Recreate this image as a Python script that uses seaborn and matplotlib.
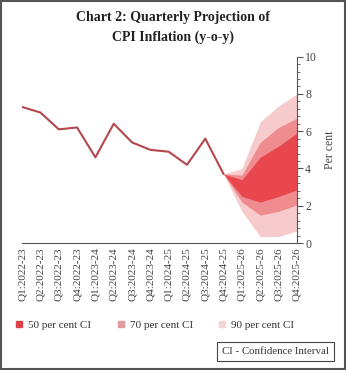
import numpy as np
import pandas as pd
import seaborn as sns
import matplotlib
matplotlib.use("Agg")
import matplotlib.pyplot as plt
from matplotlib.ticker import MultipleLocator
from matplotlib.patches import Rectangle
from matplotlib.lines import Line2D

quarters = ["Q1:2022-23", "Q2:2022-23", "Q3:2022-23", "Q4:2022-23",
            "Q1:2023-24", "Q2:2023-24", "Q3:2023-24", "Q4:2023-24",
            "Q1:2024-25", "Q2:2024-25", "Q3:2024-25", "Q4:2024-25",
            "Q1:2025-26", "Q2:2025-26", "Q3:2025-26", "Q4:2025-26"]
actual = [7.3, 7.0, 6.1, 6.2, 4.6, 6.4, 5.4, 5.0, 4.9, 4.2, 5.6, 3.7]

fan_quarters = ["Q4:2024-25", "Q1:2025-26", "Q2:2025-26", "Q3:2025-26", "Q4:2025-26"]
ci50_low = [3.7, 2.5, 2.2, 2.5, 2.85]
ci50_high = [3.7, 3.4, 4.6, 5.2, 5.9]
ci70_low = [3.7, 2.2, 1.5, 1.7, 2.05]
ci70_high = [3.7, 3.65, 5.4, 6.2, 6.7]
ci90_low = [3.7, 1.7, 0.35, 0.35, 0.65]
ci90_high = [3.7, 4.0, 6.5, 7.35, 8.0]

c50 = "#E8474E"
c70 = "#EF8C90"
c90 = "#F7CBCC"
cline = "#B4474C"

sns.set_style("white")
plt.rcParams["font.family"] = ["Liberation Serif", "DejaVu Serif"]

fig = plt.figure(figsize=(3.46, 3.70), dpi=100)
ax = fig.add_axes([0.064, 0.343, 0.794, 0.504])

pos = {q: i for i, q in enumerate(quarters)}
fx = [pos[q] for q in fan_quarters]

ax.fill_between(fx, ci90_low, ci90_high, color=c90, lw=0, zorder=1)
ax.fill_between(fx, ci70_low, ci70_high, color=c70, lw=0, zorder=2)
ax.fill_between(fx, ci50_low, ci50_high, color=c50, lw=0, zorder=3)

df = pd.DataFrame({"x": [pos[q] for q in quarters[:len(actual)]], "y": actual})
sns.lineplot(data=df, x="x", y="y", ax=ax, color=cline, lw=1.5, zorder=4)

ax.set_xlim(0, len(quarters) - 1)
ax.set_ylim(0, 10)
ax.set_xticks(range(len(quarters)))
ax.set_xticklabels(quarters, rotation=90, fontsize=8, color="#444444")
ax.yaxis.tick_right()
ax.yaxis.set_label_position("right")
ax.set_yticks([0, 2, 4, 6, 8, 10])
ax.yaxis.set_minor_locator(MultipleLocator(0.4))
ax.tick_params(axis="y", which="major", direction="out", length=4, width=0.8,
               color="#555555", labelsize=8.5, labelcolor="#444444", pad=2)
ax.tick_params(axis="y", which="minor", direction="out", length=2, width=0.6, color="#555555")
ax.tick_params(axis="x", which="major", direction="in", length=3, width=0.8,
               color="#555555", pad=3)
ax.set_xlabel("")
ax.set_ylabel("Per cent", fontsize=8.5, color="#444444", labelpad=5)
for s in ["left", "top"]:
    ax.spines[s].set_visible(False)
for s in ["right", "bottom"]:
    ax.spines[s].set_color("#555555")
    ax.spines[s].set_linewidth(0.8)

fig.text(0.5, 0.953, "Chart 2: Quarterly Projection of", ha="center", va="center",
         fontsize=10, fontweight="bold", color="#222222")
fig.text(0.5, 0.898, "CPI Inflation (y-o-y)", ha="center", va="center",
         fontsize=10, fontweight="bold", color="#222222")

handles = [Line2D([], [], marker="s", ls="", color=c, markersize=5)
           for c in ["#D9444B", "#E39A9D", "#F4D4D5"]]
fig.legend(handles, ["50 per cent CI", "70 per cent CI", "90 per cent CI"],
           loc="center left", bbox_to_anchor=(0.043, 0.122), ncol=3, frameon=False,
           fontsize=8, handletextpad=0.4, columnspacing=2.25, handlelength=0.8,
           labelcolor="#333333", borderaxespad=0, borderpad=0)

fig.text(0.797, 0.049, "CI - Confidence Interval", ha="center", va="center",
         fontsize=7.8, color="#333333",
         bbox=dict(boxstyle="square,pad=0.45", fc="white", ec="#444444", lw=0.8))

fig.add_artist(Rectangle((0.004, 0.004), 0.992, 0.992, transform=fig.transFigure,
                         fill=False, ec="#555555", lw=1.5))

fig.savefig("out.png", dpi=100)
